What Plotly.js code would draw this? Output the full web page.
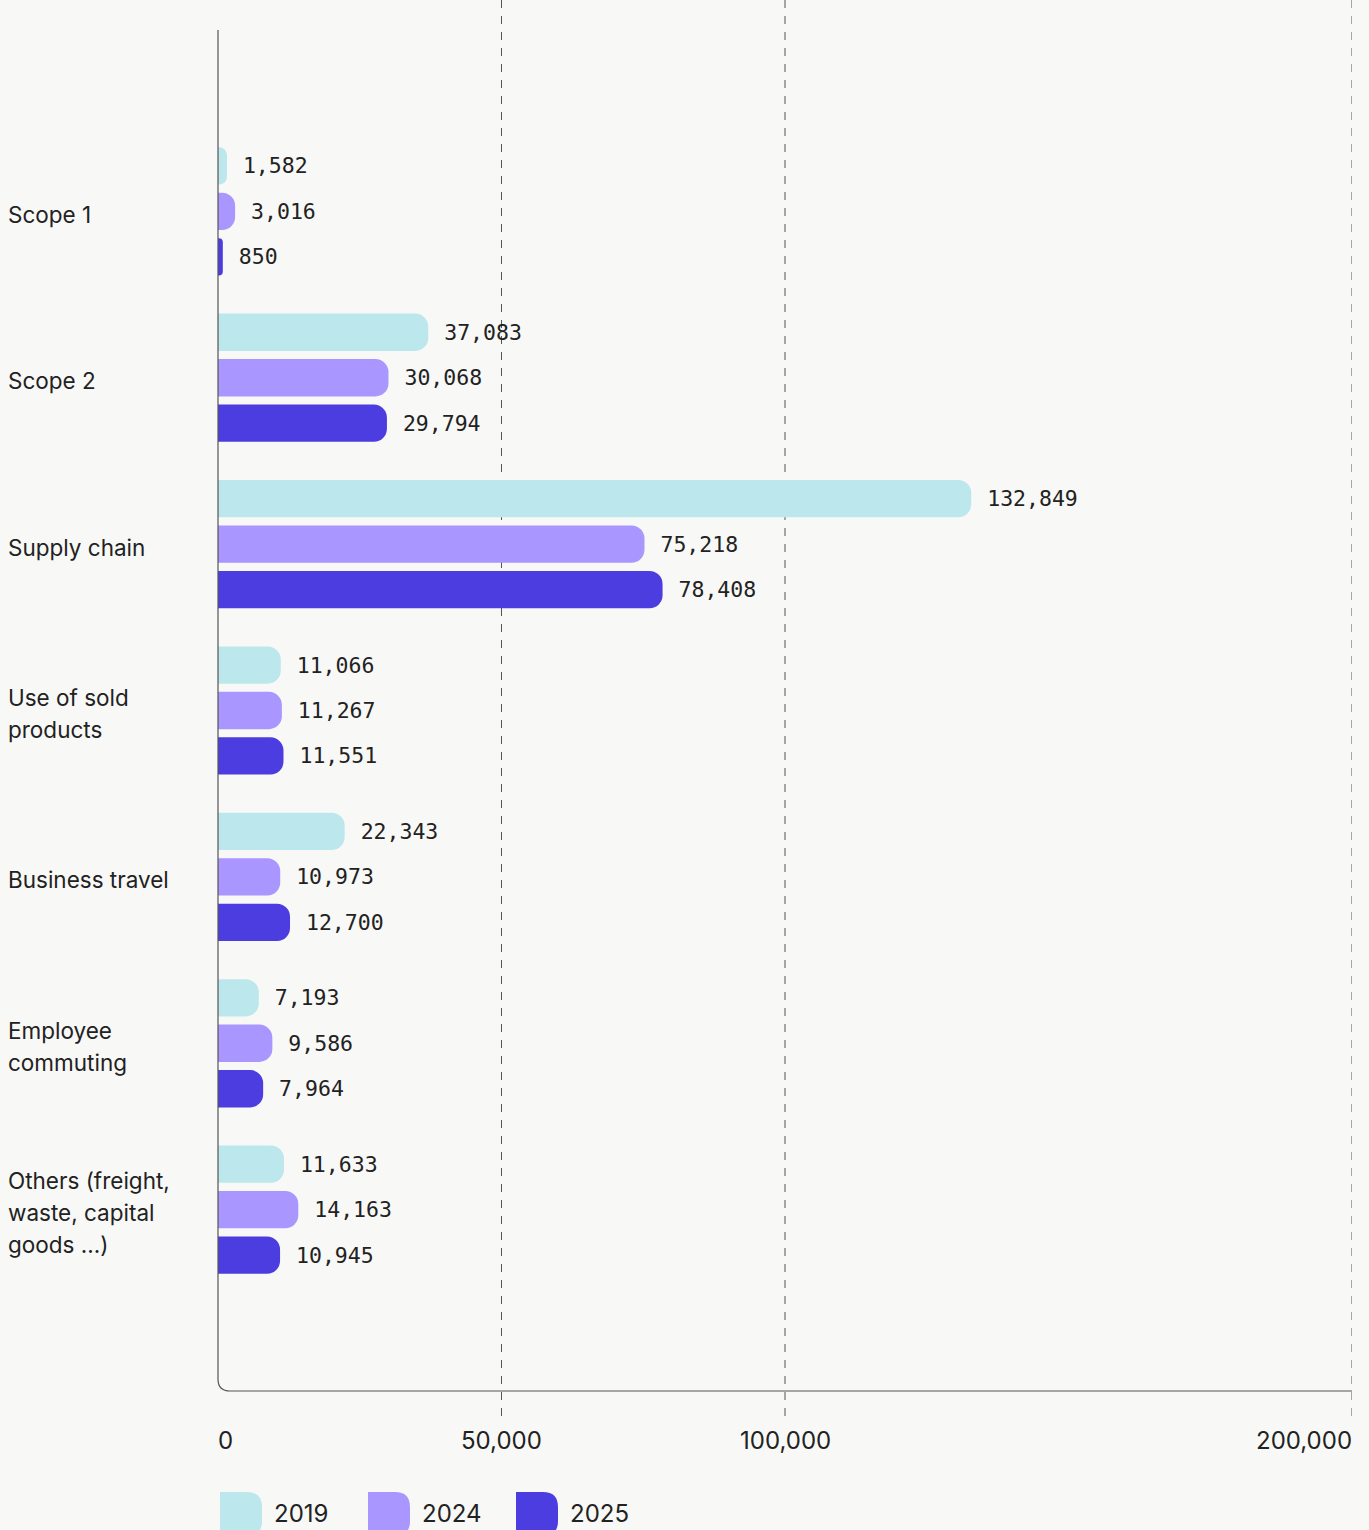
<!DOCTYPE html>
<html>
<head>
<meta charset="utf-8">
<script src="https://cdn.plot.ly/plotly-3.0.1.min.js"></script>
<style>
  html, body { margin: 0; padding: 0; background: #f8f8f7; }
  #chart { width: 1369px; height: 1530px; }
</style>
</head>
<body>
<div id="chart"></div>
<script>
// ---- data ----
const categories = [
  'Scope 1',
  'Scope 2',
  'Supply chain',
  'Use of sold<br>products',
  'Business travel',
  'Employee<br>commuting',
  'Others (freight,<br>waste, capital<br>goods ...)'
];
const seriesNames = ['2019', '2024', '2025'];
const values2019 = [1582, 37083, 132849, 11066, 22343, 7193, 11633];
const values2024 = [3016, 30068, 75218, 11267, 10973, 9586, 14163];
const values2025 = [850, 29794, 78408, 11551, 12700, 7964, 10945];
const xTickValues = [0, 50000, 100000, 200000];
const xTickLabels = ['0', '50,000', '100,000', '200,000'];
const gridValues = [50000, 100000, 200000];

// ---- styles ----
const colors = ['#bce7ed', '#a996ff', '#4b3de0'];
const textColor = '#222222';
const bg = '#f8f8f7';
const W = 1369, H = 1530;
const M = { l: 218, r: 17, t: 30, b: 139 };
const plotW = W - M.l - M.r, plotH = H - M.t - M.b;
const px2x = px => (px - M.l) / plotW;
const py2y = py => (H - M.b - py) / plotH;

const allSeries = [values2019, values2024, values2025];
const traces = allSeries.map((vals, i) => ({
  type: 'bar',
  orientation: 'h',
  name: seriesNames[i],
  y: categories,
  x: vals,
  text: vals.map(v => ' ' + v.toLocaleString('en-US')),
  textposition: 'outside',
  cliponaxis: false,
  constraintext: 'none',
  textfont: { family: 'DejaVu Sans Mono, monospace', size: 21.5, color: textColor },
  marker: { color: colors[i], cornerradius: 13, line: { width: 0 } },
  hoverinfo: 'none',
  showlegend: false
}));

const shapes = [];
// dashed gridlines
gridValues.forEach(g => shapes.push({
  type: 'line', xref: 'x', yref: 'paper', layer: 'below',
  x0: g, x1: g, y0: py2y(0), y1: py2y(1418),
  line: { color: '#555', width: 1, dash: '8px,8px' }
}));
// axis frame with rounded corner
(function () {
  const r = 12;
  const p = (x, y) => px2x(x) + ',' + py2y(y);
  const path = 'M ' + p(218, 30) + ' L ' + p(218, 1391 - r) +
    ' Q ' + p(218, 1391) + ' ' + p(218 + r, 1391) + ' L ' + p(1352, 1391);
  shapes.push({ type: 'path', xref: 'paper', yref: 'paper', path: path, layer: 'above',
    line: { color: '#555', width: 1.2 } });
})();

const annotations = [];
// category labels (one annotation per line for custom line spacing)
const lineH = 32;
categories.forEach(c => {
  const lines = c.split('<br>');
  lines.forEach((ln, k) => annotations.push({
    x: 0, xref: 'x', xshift: -212, xanchor: 'left',
    y: c, yref: 'y', yanchor: 'middle', align: 'left',
    yshift: -3 - (k - (lines.length - 1) / 2) * lineH,
    text: ln, showarrow: false,
    font: { family: 'Inter, sans-serif', size: 22.5, color: textColor }
  }));
});
// x tick labels
xTickValues.forEach((t, i) => {
  const last = i === xTickValues.length - 1;
  annotations.push({
    x: t, xref: 'x', y: 0, yref: 'paper', yshift: -49, yanchor: 'middle',
    xanchor: i === 0 ? 'left' : (last ? 'right' : 'center'),
    xshift: i === 0 ? -2 : (last ? 2 : 0),
    text: xTickLabels[i], showarrow: false,
    font: { family: 'Inter, sans-serif', size: 24, color: textColor }
  });
});
// legend
seriesNames.forEach((n, i) => {
  const x0 = 220 + i * 148, x1 = x0 + 42, y0 = 1492, y1 = 1536, r = 15;
  const p = (x, y) => px2x(x) + ',' + py2y(y);
  const path = 'M ' + p(x0, y0) + ' L ' + p(x1 - r, y0) + ' Q ' + p(x1, y0) + ' ' + p(x1, y0 + r) +
    ' L ' + p(x1, y1 - r) + ' Q ' + p(x1, y1) + ' ' + p(x1 - r, y1) + ' L ' + p(x0, y1) + ' Z';
  shapes.push({ type: 'path', xref: 'paper', yref: 'paper', path: path,
    fillcolor: colors[i], line: { width: 0 } });
  annotations.push({
    x: px2x(x1 + 10), xref: 'paper', xanchor: 'left',
    y: py2y(1513), yref: 'paper', yanchor: 'middle',
    text: n, showarrow: false,
    font: { family: 'Inter, sans-serif', size: 24, color: textColor }
  });
});

const nCat = categories.length;
const layout = {
  width: W, height: H,
  margin: M,
  paper_bgcolor: bg, plot_bgcolor: bg,
  barmode: 'group',
  bargap: 0.18,
  bargroupgap: 0.18,
  showlegend: false,
  xaxis: {
    range: [0, 200000], showgrid: false, zeroline: false, showline: false,
    showticklabels: false, ticks: '', fixedrange: true
  },
  yaxis: {
    type: 'category', range: [nCat - 1 + 1.09, -1.09], showgrid: false, zeroline: false,
    showline: false, showticklabels: false, ticks: '', fixedrange: true
  },
  shapes: shapes,
  annotations: annotations
};

Plotly.newPlot('chart', traces, layout, { displayModeBar: false, staticPlot: true });
</script>
</body>
</html>
